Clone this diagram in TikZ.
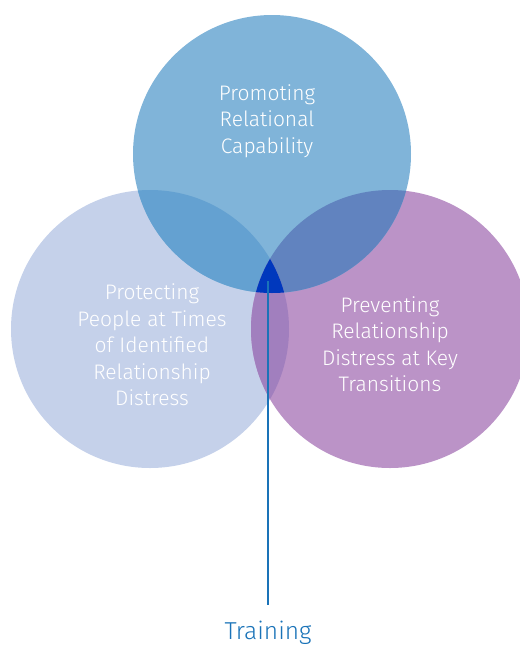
\documentclass[tikz,border=0pt]{standalone}
\usepackage{fontspec}
\setmainfont{Fira Sans Light}
\definecolor{topblue}{HTML}{80B4D9}
\definecolor{leftblue}{HTML}{C5D1EA}
\definecolor{rightviolet}{HTML}{BB93C7}
\definecolor{tlmix}{HTML}{64A1D1}
\definecolor{trmix}{HTML}{6183BF}
\definecolor{lrmix}{HTML}{A17FBE}
\definecolor{coremix}{HTML}{0038BD}
\definecolor{linkblue}{HTML}{1A73B8}
\tikzset{
  ring/.style={circle, minimum size=278pt, inner sep=0pt},
  label/.style={text=white, align=center, font=\fontsize{21}{26.5}\selectfont},
}
\begin{document}
\begin{tikzpicture}[x=1pt,y=-1pt]
   \useasboundingbox (0,0) rectangle (520,646);
   \node[ring, fill=leftblue] (protect) at (150,329) {};
   \node[ring, fill=rightviolet] (prevent) at (390,329) {};
   \node[ring, fill=topblue] (promote) at (272,154) {};
   % overlaps
   \begin{scope}
     \clip (promote.center) circle[radius=139];
     \fill[tlmix] (protect.center) circle[radius=139];
     \fill[trmix] (prevent.center) circle[radius=139];
   \end{scope}
   \begin{scope}
     \clip (protect.center) circle[radius=139];
     \fill[lrmix] (prevent.center) circle[radius=139];
     \clip (prevent.center) circle[radius=139];
     \fill[coremix] (promote.center) circle[radius=139];
   \end{scope}
   % texts
   \node[label] (promotetext) at (267,121) {Promoting\\Relational\\Capability};
   \node[label] (protecttext) at (152,345) {Protecting\\People at Times\\of Identified\\Relationship\\Distress};
   \node[label] (preventtext) at (390,344) {Preventing\\Relationship\\Distress at Key\\Transitions};
   \coordinate (hub) at (268,281);
   \node[text=linkblue, font=\fontsize{24.5}{28}\selectfont] (train) at (268,633) {Training};
   \draw[linkblue, line width=2.5pt] (hub) -- (268,605);
\end{tikzpicture}
\end{document}
